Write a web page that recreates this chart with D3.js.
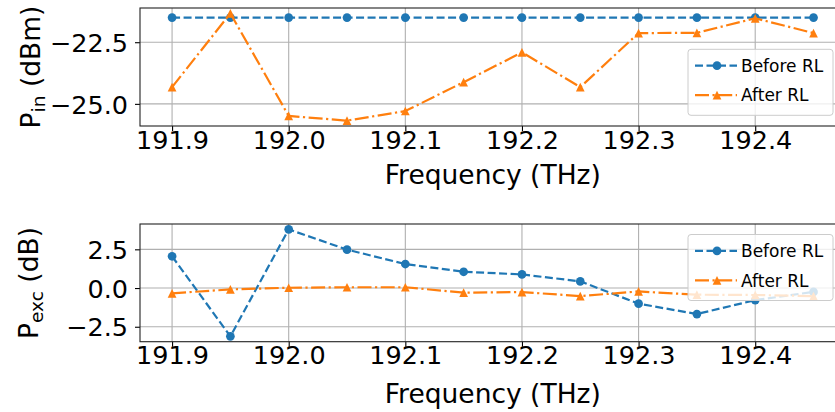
<!DOCTYPE html>
<html><head><meta charset="utf-8">
<script src="https://cdn.jsdelivr.net/npm/d3@7"></script>
<style>body{margin:0;background:#fff;} text{font-family:"DejaVu Sans",sans-serif;}</style>
</head><body>
<svg id="c" width="835" height="412"></svg>
<script>
// ---- data ----
const freqs = [191.9,191.95,192.0,192.05,192.1,192.15,192.2,192.25,192.3,192.35,192.4,192.45];
const pinBefore = [-21.5,-21.5,-21.5,-21.5,-21.5,-21.5,-21.5,-21.5,-21.5,-21.5,-21.5,-21.5];
const pinAfter  = [-24.32,-21.33,-25.49,-25.68,-25.29,-24.12,-22.91,-24.32,-22.13,-22.12,-21.53,-22.13];
const pexcBefore = [2.05,-3.12,3.79,2.48,1.55,1.05,0.88,0.43,-1.01,-1.68,-0.78,-0.25];
const pexcAfter  = [-0.34,-0.09,0.02,0.05,0.05,-0.30,-0.26,-0.52,-0.22,-0.43,-0.45,-0.52];
const xTicks = [191.9,192.0,192.1,192.2,192.3,192.4];
const pinTicks = [-22.5,-25.0];
const pexcTicks = [-2.5,0.0,2.5];
const seriesNames = ["Before RL","After RL"];

const BLUE="#1f77b4", ORANGE="#ff7f0e";
const svg = d3.select("#c");
const L=140, R=845.6;

function pad(arrs){
  const all = arrs.flat();
  const lo=d3.min(all), hi=d3.max(all), p=(hi-lo)*0.05;
  return [lo-p, hi+p];
}
const xd = d3.extent(freqs), xp=(xd[1]-xd[0])*0.05;
const x = d3.scaleLinear().domain([xd[0]-xp, xd[1]+xp]).range([L,R]);

const fmt1 = d => d3.format(".1f")(d).replace("-","\u2212");

function panel(top, bottom, before, after, yTicks, labelMain, labelSub, labelX, id, legTop){
  const y = d3.scaleLinear().domain(pad([before,after])).range([bottom, top]);
  const g = svg.append("g");
  g.append("clipPath").attr("id","clip"+id).append("rect")
    .attr("x",L).attr("y",top).attr("width",R-L).attr("height",bottom-top);
  // grid
  g.selectAll(".gx").data(xTicks).join("line")
    .attr("x1",d=>x(d)).attr("x2",d=>x(d)).attr("y1",top).attr("y2",bottom)
    .attr("stroke","#b0b0b0").attr("stroke-width",1.1);
  g.selectAll(".gy").data(yTicks).join("line")
    .attr("x1",L).attr("x2",R).attr("y1",d=>y(d)).attr("y2",d=>y(d))
    .attr("stroke","#b0b0b0").attr("stroke-width",1.1);
  // axes
  const xa = g.append("g").attr("transform",`translate(0,${bottom})`)
    .call(d3.axisBottom(x).tickValues(xTicks).tickFormat(d3.format(".1f")).tickSize(5).tickSizeOuter(0));
  xa.select(".domain").remove();
  xa.selectAll("text").attr("font-size","25.5px").attr("fill","#000").attr("dy",null).attr("y",23).attr("dominant-baseline","auto");
  xa.selectAll("text").attr("y",22.7);
  xa.selectAll(".tick line").attr("stroke","#000").attr("stroke-width",1.1);
  const ya = g.append("g").attr("transform",`translate(${L},0)`)
    .call(d3.axisLeft(y).tickValues(yTicks).tickFormat(fmt1).tickSize(5).tickSizeOuter(0));
  ya.select(".domain").remove();
  ya.selectAll("text").attr("font-size","25.5px").attr("fill","#000").attr("x",-12).attr("dy","0.36em");
  ya.selectAll(".tick line").attr("stroke","#000").attr("stroke-width",1.1);
  // frame
  g.append("rect").attr("x",L).attr("y",top).attr("width",R-L).attr("height",bottom-top)
    .attr("fill","none").attr("stroke","#222").attr("stroke-width",1.1);
  // series
  const data = [before, after];
  const styles = [
    {c:BLUE, dash:"8,3.5", m:"circle"},
    {c:ORANGE, dash:"14,3.5,2.2,3.5", m:"tri"}
  ];
  const plot = g.append("g").attr("clip-path",`url(#clip${id})`);
  const line = d3.line().x((d,i)=>x(freqs[i])).y(d=>y(d));
  const tri = d3.symbol().type(d3.symbolTriangle);
  data.forEach((vals,si)=>{
    const s=styles[si];
    plot.append("path").datum(vals).attr("d",line).attr("fill","none")
      .attr("stroke",s.c).attr("stroke-width",2.2).attr("stroke-dasharray",s.dash);
    if(s.m==="circle"){
      plot.selectAll(null).data(vals).join("circle").attr("cx",(d,i)=>x(freqs[i])).attr("cy",d=>y(d))
        .attr("r",4.35).attr("fill",s.c);
    } else {
      plot.selectAll(null).data(vals).join("path")
        .attr("d","M0,-4.35L4.35,4.35L-4.35,4.35Z")
        .attr("transform",(d,i)=>`translate(${x(freqs[i])},${y(d)})`).attr("fill",s.c);
    }
  });
  // legend
  const lg = g.append("g").attr("transform",`translate(688,${legTop})`);
  lg.append("rect").attr("x",0).attr("y",0).attr("width",145).attr("height",66).attr("rx",3)
    .attr("fill","#fff").attr("fill-opacity",0.8).attr("stroke","#cccccc").attr("stroke-width",1);
  seriesNames.forEach((n,i)=>{
    const s=styles[i], cy = 16.4 + i*29.5;
    lg.append("line").attr("x1",7).attr("x2",49).attr("y1",cy).attr("y2",cy)
      .attr("stroke",s.c).attr("stroke-width",2.2).attr("stroke-dasharray",s.dash);
    if(s.m==="circle") lg.append("circle").attr("cx",29).attr("cy",cy).attr("r",4.35).attr("fill",s.c);
    else lg.append("path").attr("d","M0,-4.35L4.35,4.35L-4.35,4.35Z").attr("transform",`translate(29,${cy})`).attr("fill",s.c);
    lg.append("text").attr("x",53).attr("y",cy).attr("dy","0.36em").attr("font-size","17px").text(n);
  });
  // x label
  g.append("text").attr("x",(L+R)/2).attr("y",labelX).attr("text-anchor","middle")
    .attr("font-size","26.5px").text("Frequency (THz)");
  return y;
}

function ylabel(cx, cy, main, sub, rest){
  const t = svg.append("text").attr("transform",`translate(${cx},${cy}) rotate(-90)`)
    .attr("text-anchor","middle").attr("font-size","26.5px");
  t.append("tspan").text(main);
  t.append("tspan").attr("font-size","18.5px").attr("dy","5").text(sub);
  t.append("tspan").attr("dy","-5").text(rest);
}

panel(8,126,pinBefore,pinAfter,pinTicks,"P","in",184.3,"a",49.3);
panel(224,341.7,pexcBefore,pexcAfter,pexcTicks,"P","exc",403.3,"b",234.5);
ylabel(40,67,"P","in"," (dBm)");
ylabel(38,283,"P","exc"," (dB)");
</script>
</body></html>
